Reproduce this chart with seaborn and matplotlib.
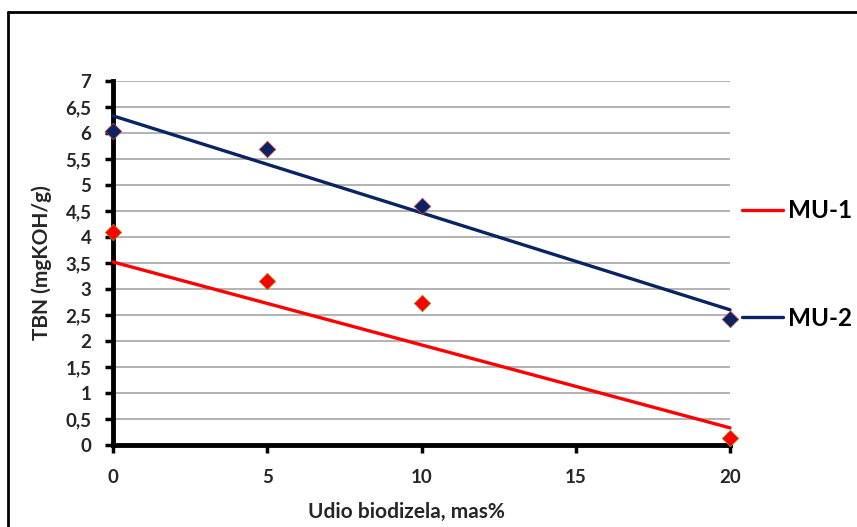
import matplotlib
matplotlib.use("Agg")
import matplotlib.pyplot as plt
from matplotlib.lines import Line2D
import seaborn as sns
import pandas as pd

# Biodiesel share (mass %) and measured TBN values
udio = [0, 5, 10, 20]
mu1_tbn = [4.10, 3.16, 2.73, 0.14]
mu2_tbn = [6.03, 5.69, 4.60, 2.42]

# Linear trend lines (values at the ends of the axis)
trend_x = [0, 20]
mu1_trend = [3.52, 0.33]
mu2_trend = [6.33, 2.60]

series = ["MU-1", "MU-2"]
x_ticks = [0, 5, 10, 15, 20]
y_ticks = [0, 0.5, 1, 1.5, 2, 2.5, 3, 3.5, 4, 4.5, 5, 5.5, 6, 6.5, 7]
y_tick_labels = ["0", "0,5", "1", "1,5", "2", "2,5", "3", "3,5", "4",
                 "4,5", "5", "5,5", "6", "6,5", "7"]

RED = "#ff0000"
NAVY = "#0a2463"

W, H = 857, 527


def fx(px):
    return px / W


def fy(py):
    return 1 - py / H


sns.set_theme(style="white")
plt.rcParams["font.family"] = ["Lato", "DejaVu Sans"]

fig = plt.figure(figsize=(W / 100, H / 100), dpi=100)
ax = fig.add_axes([fx(113), fy(445), (730 - 113) / W, (445 - 81) / H])

points = pd.DataFrame({
    "x": udio * 2,
    "y": mu1_tbn + mu2_tbn,
    "serija": [series[0]] * 4 + [series[1]] * 4,
})
trends = pd.DataFrame({
    "x": trend_x * 2,
    "y": mu1_trend + mu2_trend,
    "serija": [series[0]] * 2 + [series[1]] * 2,
})

sns.lineplot(data=trends, x="x", y="y", hue="serija",
             palette={series[0]: RED, series[1]: NAVY}, linewidth=2.4,
             legend=False, ax=ax, clip_on=False, zorder=3)

sns.scatterplot(data=points[points.serija == series[0]], x="x", y="y",
                marker="D", s=70, color=RED, edgecolor="#9a8a20",
                linewidth=0.6, legend=False, ax=ax, clip_on=False, zorder=4)
sns.scatterplot(data=points[points.serija == series[1]], x="x", y="y",
                marker="D", s=70, color=NAVY, edgecolor="#c04040",
                linewidth=0.6, legend=False, ax=ax, clip_on=False, zorder=4)

ax.set_xlim(0, 20)
ax.set_ylim(0, 7)
ax.set_xticks(x_ticks)
ax.set_xticklabels([str(t) for t in x_ticks])
ax.set_yticks(y_ticks)
ax.set_yticklabels(y_tick_labels)

ax.yaxis.grid(True, color="#a6a6a6", linewidth=1.2)
ax.xaxis.grid(False)
ax.set_axisbelow(True)

for side in ("top", "right"):
    ax.spines[side].set_visible(False)
for side in ("left", "bottom"):
    ax.spines[side].set_color("black")
    ax.spines[side].set_linewidth(3.5)
    ax.spines[side].set_zorder(2)

ax.tick_params(axis="both", which="major", direction="out", length=6,
               width=2.5, color="black", labelsize=13.5,
               left=True, bottom=True)
for lbl in ax.get_xticklabels() + ax.get_yticklabels():
    lbl.set_fontweight("bold")
ax.tick_params(axis="x", pad=11)
ax.tick_params(axis="y", pad=9.5)

ax.set_xlabel("Udio biodizela, mas%", fontsize=15, fontweight="bold",
              va="center")
ax.xaxis.set_label_coords((406 - 113) / 617, (445 - 512) / 364)
ax.set_ylabel("TBN (mgKOH/g)", fontsize=15, fontweight="bold",
              va="center")
ax.yaxis.set_label_coords((42 - 113) / 617, 0.5)

# Legend entries to the right of the plot
for name, color, ly in zip(series, [RED, NAVY], [210, 317]):
    fig.add_artist(Line2D([fx(742), fx(783)], [fy(ly), fy(ly)], color=color,
                          lw=2.4, transform=fig.transFigure))
    fig.text(fx(788), fy(ly + 8.5), name, fontsize=17.5, fontweight="bold",
             ha="left", va="baseline", color="black")

# Outer frame (top and left edges)
fig.add_artist(Line2D([fx(8), 1], [fy(12), fy(12)],
                      color="black", lw=2, transform=fig.transFigure))
fig.add_artist(Line2D([fx(8), fx(8)], [fy(12), 0],
                      color="black", lw=2, transform=fig.transFigure))

fig.savefig("out.png", dpi=100)
